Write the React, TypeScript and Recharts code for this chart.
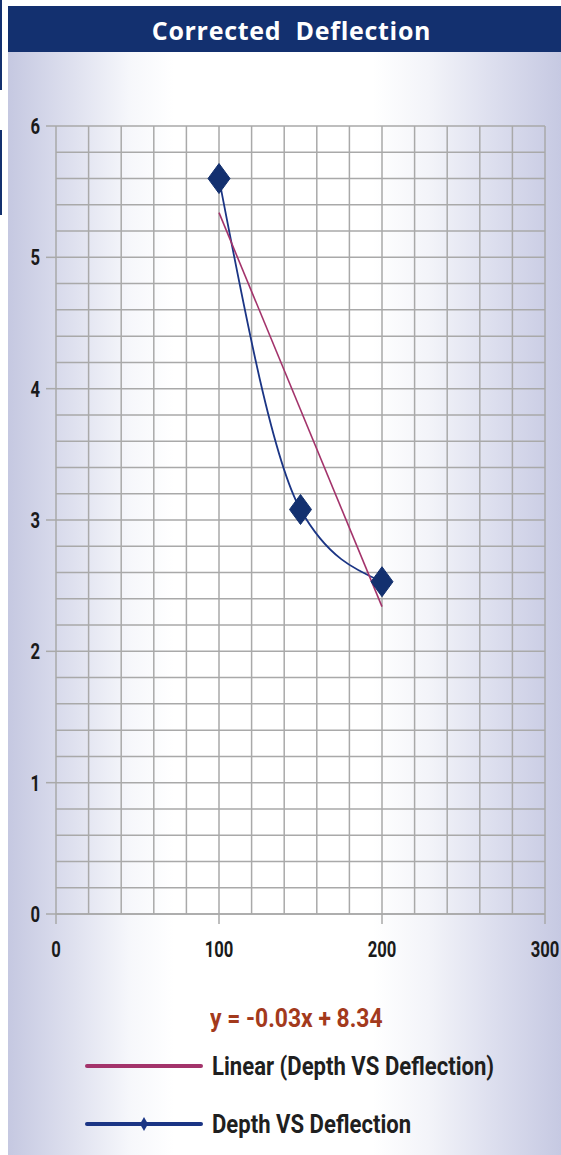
import React from "react";
import { ComposedChart, Line, XAxis, YAxis, CartesianGrid } from "recharts";

const depthX = [100, 150, 200];
const deflectionY = [5.6, 3.08, 2.53];
const trendX = [100, 200];
const trendY = [5.34, 2.34];
const xTicks = [0, 100, 200, 300];
const yTicks = [0, 1, 2, 3, 4, 5, 6];
const gridXTicks = [0, 20, 40, 60, 80, 100, 120, 140, 160, 180, 200, 220, 240, 260, 280, 300];
const gridYTicks = [0, 0.2, 0.4, 0.6, 0.8, 1, 1.2, 1.4, 1.6, 1.8, 2, 2.2, 2.4, 2.6, 2.8, 3, 3.2, 3.4, 3.6, 3.8, 4, 4.2, 4.4, 4.6, 4.8, 5, 5.2, 5.4, 5.6, 5.8, 6];
const title = "Corrected\u00a0\u00a0Deflection";
const equation = "y = -0.03x + 8.34";
const legendTrend = "Linear (Depth VS Deflection)";
const legendData = "Depth VS Deflection";

const dataSeries = depthX.map((x, i) => ({ x, y: deflectionY[i] }));
const trendSeries = trendX.map((x, i) => ({ x, y: trendY[i] }));

const NAVY = "#13306f";
const BLUE = "#1b3585";
const PINK = "#a3336b";
const GRID = "#a9a9a9";
const FONT = "Roboto, 'Liberation Sans', sans-serif";
const SQUEEZE = 0.74;

const Diamond = (props: any) => {
  const { cx, cy, index } = props;
  if (cx == null || cy == null) return <g key={`d-${index}`} />;
  const hw = 11;
  const hh = 15;
  return (
    <path
      key={`d-${index}`}
      d={`M${cx},${cy - hh} L${cx + hw},${cy} L${cx},${cy + hh} L${cx - hw},${cy} Z`}
      fill={NAVY}
      stroke={NAVY}
      strokeWidth={1}
    />
  );
};

const XTick = (props: any) => {
  const { x, y, payload } = props;
  return (
    <g transform={`translate(${x},${y}) scale(${SQUEEZE},1)`}>
      <text x={0} y={0} dy="0.71em" textAnchor="middle" fontFamily={FONT} fontWeight={700} fontSize={22.5} fill="#1a1a1a">
        {payload.value}
      </text>
    </g>
  );
};

const YTick = (props: any) => {
  const { x, y, payload } = props;
  return (
    <g transform={`translate(${x},${y}) scale(${SQUEEZE},1)`}>
      <text x={0} y={0} dy="0.36em" textAnchor="end" fontFamily={FONT} fontWeight={700} fontSize={22.5} fill="#1a1a1a">
        {payload.value}
      </text>
    </g>
  );
};

const legendText: React.CSSProperties = {
  position: "absolute",
  fontFamily: FONT,
  fontWeight: 700,
  fontSize: 26,
  whiteSpace: "nowrap",
  lineHeight: "32px",
  transformOrigin: "0 50%",
};

export default function App() {
  return (
    <div style={{ position: "absolute", left: 0, top: 0, width: 561, height: 1155, overflow: "hidden", background: "#fff" }}>
      <div style={{ position: "absolute", left: 0, top: 0, width: 2, height: 90, background: NAVY }} />
      <div style={{ position: "absolute", left: 0, top: 130, width: 2, height: 85, background: NAVY }} />
      <div
        style={{
          position: "absolute",
          left: 8,
          top: 6,
          width: 553,
          height: 1149,
          background:
            "linear-gradient(to right, #c5c8e1 0%, #dfe1ef 12%, #f6f7fb 22%, #ffffff 30%, #ffffff 66%, #f3f4f9 76%, #dcdeee 88%, #c6c9e2 100%)",
        }}
      />
      <div
        style={{
          position: "absolute",
          left: 8,
          top: 6,
          width: 553,
          height: 46,
          background: NAVY,
          color: "#fff",
          fontFamily: "'Open Sans', 'Noto Sans', sans-serif",
          fontWeight: 700,
          fontSize: 25,
          lineHeight: "48px",
          textAlign: "center",
          paddingLeft: 14,
          boxSizing: "border-box",
          letterSpacing: 0.7,
        }}
      >
        {title}
      </div>
      <div style={{ position: "absolute", left: 0, top: 0 }}>
        <ComposedChart width={561} height={1155} margin={{ top: 126, right: 16, left: 16, bottom: 181 }}>
          <CartesianGrid
            stroke={GRID}
            strokeWidth={1.5}
            verticalValues={gridXTicks}
            horizontalValues={gridYTicks}
            syncWithTicks
          />
          <XAxis
            type="number"
            dataKey="x"
            domain={[0, 300]}
            ticks={xTicks}
            height={60}
            axisLine={{ stroke: GRID, strokeWidth: 1.5 }}
            tickLine={{ stroke: GRID, strokeWidth: 1.5 }}
            tickSize={10}
            tickMargin={17}
            tick={XTick}
            interval={0}
          />
          <YAxis
            type="number"
            domain={[0, 6]}
            ticks={yTicks}
            width={40}
            axisLine={false}
            tickLine={{ stroke: GRID, strokeWidth: 1.5 }}
            tickSize={10}
            tickMargin={6}
            tick={YTick}
            interval={0}
          />
          <Line
            data={dataSeries}
            dataKey="y"
            type="monotone"
            stroke={BLUE}
            strokeWidth={1.8}
            dot={Diamond}
            activeDot={false}
            isAnimationActive={false}
          />
          <Line
            data={trendSeries}
            dataKey="y"
            type="linear"
            stroke={PINK}
            strokeWidth={1.6}
            dot={false}
            activeDot={false}
            isAnimationActive={false}
          />
        </ComposedChart>
      </div>
      <div style={{ ...legendText, left: 210, top: 1002, color: "#a33a1c", transform: "scaleX(0.88)" }}>{equation}</div>
      <svg style={{ position: "absolute", left: 0, top: 1040 }} width={220} height={110}>
        <line x1={87} y1={26} x2={201} y2={26} stroke={PINK} strokeWidth={4} strokeLinecap="round" />
        <line x1={87} y1={84} x2={201} y2={84} stroke={BLUE} strokeWidth={4} strokeLinecap="round" />
        <path d="M144,77 L148,84 L144,91 L140,84 Z" fill={BLUE} />
      </svg>
      <div style={{ ...legendText, left: 212, top: 1050, color: "#1f1f1f", transform: "scaleX(0.85)" }}>{legendTrend}</div>
      <div style={{ ...legendText, left: 212, top: 1108, color: "#1f1f1f", transform: "scaleX(0.85)" }}>{legendData}</div>
    </div>
  );
}
